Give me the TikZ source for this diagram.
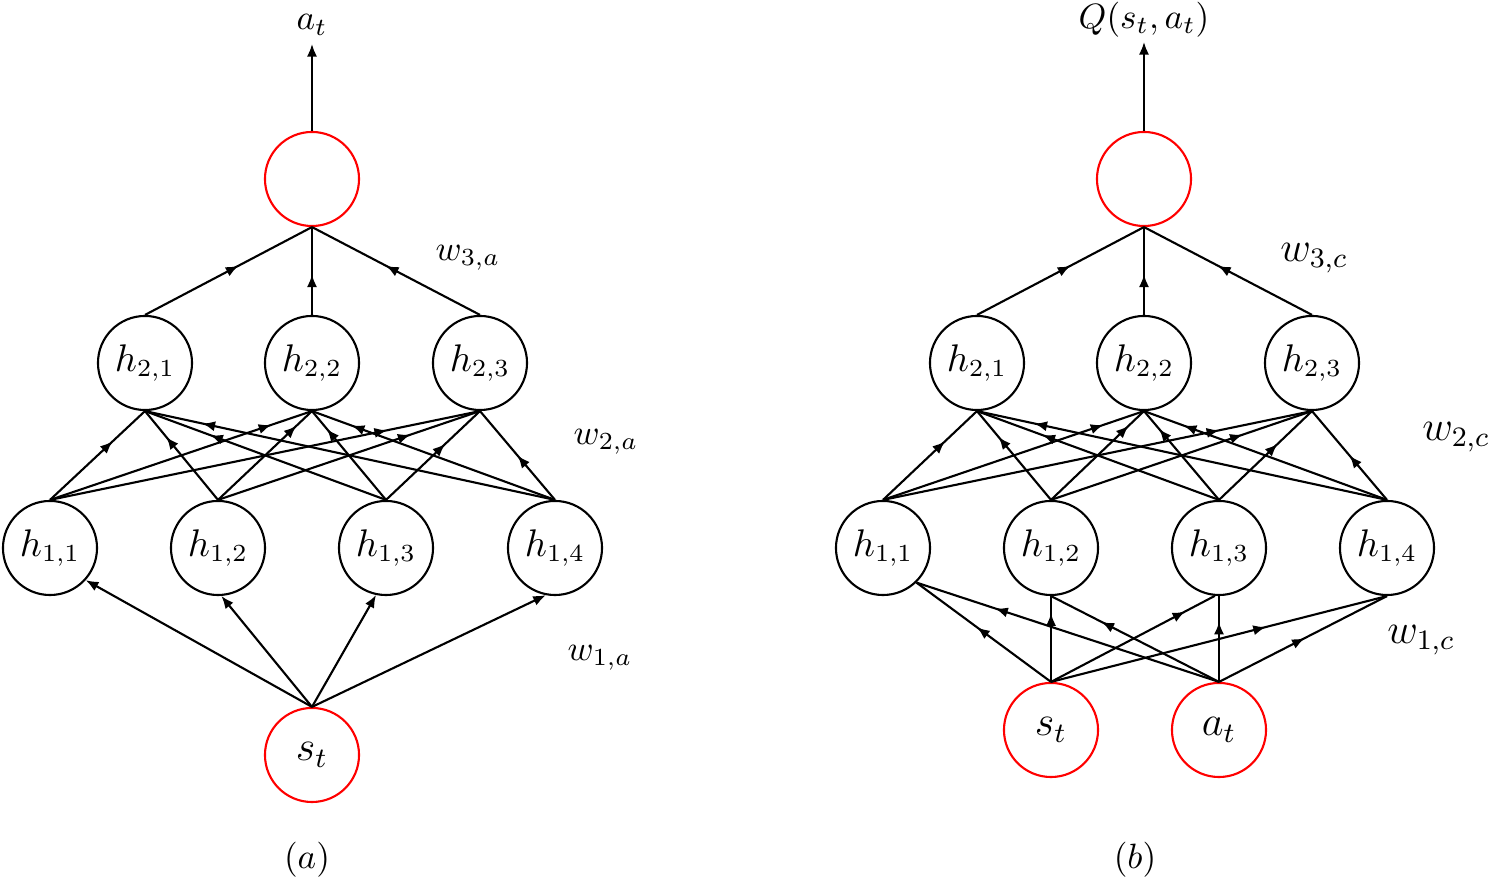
\documentclass[tikz,border=0pt]{standalone}
\usetikzlibrary{arrows.meta,decorations.markings}
\tikzset{
  neuron/.style={circle,draw,line width=0.6pt,minimum size=0.94cm,inner sep=0pt,font=\fontsize{10.7}{13}\selectfont},
  io/.style={neuron,draw=red,font=\large},
  conn/.style={line width=0.6pt},
  arrowat/.style={postaction={decorate},decoration={markings,mark=at position #1 with {\arrow{Latex[length=3.6pt,width=2.9pt]}}}},
  endtip/.style={-{Latex[length=3.6pt,width=2.9pt]}},
  wlab/.style={inner sep=0pt},
}
\begin{document}
\begin{tikzpicture}[x=0.01cm,y=-0.01cm]
\path[use as bounding box] (0,0) rectangle (1493,895);

% ---------------- (a) ----------------
\node[io] (oa) at (312,179) {};
\node[anchor=south,inner sep=2.3pt] (la) at (312,44) {$a_t$};
\node[neuron] (a21) at (145,363) {$h_{2,1}$};
\node[neuron] (a22) at (312,363) {$h_{2,2}$};
\node[neuron] (a23) at (480,363) {$h_{2,3}$};
\node[neuron] (a11) at (50,548) {$h_{1,1}$};
\node[neuron] (a12) at (218,548) {$h_{1,2}$};
\node[neuron] (a13) at (386,548) {$h_{1,3}$};
\node[neuron] (a14) at (555,548) {$h_{1,4}$};
\node[io] (ast) at (312,755) {$s_t$};

\draw[conn,endtip] (oa) -- (la);
\draw[conn,arrowat=0.56] (a21.north) -- (oa.south);
\draw[conn,arrowat=0.46] (a22.north) -- (oa.south);
\draw[conn,arrowat=0.56] (a23.north) -- (oa.south);

\draw[conn,arrowat=0.66] (a11.north) -- (a21.south);
\draw[conn,arrowat=0.71] (a12.north) -- (a21.south);
\draw[conn,arrowat=0.73] (a13.north) -- (a21.south);
\draw[conn,arrowat=0.86] (a14.north) -- (a21.south);
\draw[conn,arrowat=0.845] (a11.north) -- (a22.south);
\draw[conn,arrowat=0.835] (a12.north) -- (a22.south);
\draw[conn,arrowat=0.80] (a13.north) -- (a22.south);
\draw[conn,arrowat=0.837] (a14.north) -- (a22.south);
\draw[conn,arrowat=0.784] (a11.north) -- (a23.south);
\draw[conn,arrowat=0.735] (a12.north) -- (a23.south);
\draw[conn,arrowat=0.63] (a13.north) -- (a23.south);
\draw[conn,arrowat=0.50] (a14.north) -- (a23.south);

\draw[conn,endtip] (ast.north) -- (a11.-42);
\draw[conn,endtip] (ast.north) -- (a12.-86);
\draw[conn,endtip] (ast.north) -- (a13.-102);
\draw[conn,endtip] (ast.north) -- (a14.-101);

\node[wlab] (w3a) at (468,258) {$w_{3,a}$};
\node[wlab] (w2a) at (606,442) {$w_{2,a}$};
\node[wlab] (w1a) at (600,658) {$w_{1,a}$};
\node (capa) at (307,860) {$(a)$};

% ---------------- (b) ----------------
\node[io] (ob) at (1144,179) {};
\node[anchor=south,inner sep=1.2pt] (lb) at (1144,42) {$Q(s_t,a_t)$};
\node[neuron] (b21) at (977,363) {$h_{2,1}$};
\node[neuron] (b22) at (1144,363) {$h_{2,2}$};
\node[neuron] (b23) at (1312,363) {$h_{2,3}$};
\node[neuron] (b11) at (883,548) {$h_{1,1}$};
\node[neuron] (b12) at (1051,548) {$h_{1,2}$};
\node[neuron] (b13) at (1219,548) {$h_{1,3}$};
\node[neuron] (b14) at (1387,548) {$h_{1,4}$};
\node[io] (bst) at (1051,730) {$s_t$};
\node[io] (bat) at (1219,730) {$a_t$};

\draw[conn,endtip] (ob) -- (lb);
\draw[conn,arrowat=0.56] (b21.north) -- (ob.south);
\draw[conn,arrowat=0.46] (b22.north) -- (ob.south);
\draw[conn,arrowat=0.56] (b23.north) -- (ob.south);

\draw[conn,arrowat=0.66] (b11.north) -- (b21.south);
\draw[conn,arrowat=0.71] (b12.north) -- (b21.south);
\draw[conn,arrowat=0.73] (b13.north) -- (b21.south);
\draw[conn,arrowat=0.86] (b14.north) -- (b21.south);
\draw[conn,arrowat=0.845] (b11.north) -- (b22.south);
\draw[conn,arrowat=0.835] (b12.north) -- (b22.south);
\draw[conn,arrowat=0.80] (b13.north) -- (b22.south);
\draw[conn,arrowat=0.837] (b14.north) -- (b22.south);
\draw[conn,arrowat=0.784] (b11.north) -- (b23.south);
\draw[conn,arrowat=0.735] (b12.north) -- (b23.south);
\draw[conn,arrowat=0.63] (b13.north) -- (b23.south);
\draw[conn,arrowat=0.50] (b14.north) -- (b23.south);

\draw[conn,arrowat=0.55] (bst.north) -- (b11.-46);
\draw[conn,arrowat=0.74] (bat.north) -- (b11.-46);
\draw[conn,arrowat=0.80] (bst.north) -- (b12.south);
\draw[conn,arrowat=0.70] (bat.north) -- (b12.south);
\draw[conn,arrowat=0.82] (bst.north) -- (b13.-95);
\draw[conn,arrowat=0.70] (bat.north) -- (b13.south);
\draw[conn,arrowat=0.64] (bst.north) -- (b14.south);
\draw[conn,arrowat=0.51] (bat.north) -- (b14.south);

\node[wlab] (w3c) at (1314,258) {\large $w_{3,c}$};
\node[wlab] (w2c) at (1456,437) {\large $w_{2,c}$};
\node[wlab] (w1c) at (1421,640) {\large $w_{1,c}$};
\node (capb) at (1135,860) {$(b)$};
\end{tikzpicture}
\end{document}
